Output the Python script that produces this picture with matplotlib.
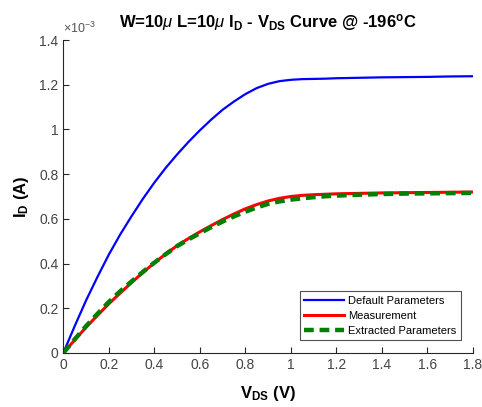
import matplotlib
matplotlib.use("Agg")
import matplotlib.pyplot as plt
from matplotlib.ticker import FuncFormatter

plt.rcParams['font.family'] = ['Liberation Sans', 'DejaVu Sans']
plt.rcParams['mathtext.fontset'] = 'custom'
plt.rcParams['mathtext.rm'] = 'Liberation Sans'
plt.rcParams['mathtext.it'] = 'Liberation Sans:italic'
plt.rcParams['mathtext.bf'] = 'Liberation Sans:bold'

# Data (drain current in units of 1e-3 A)
vds = [0.0, 0.05, 0.1, 0.15, 0.2, 0.25, 0.3, 0.35, 0.4, 0.45, 0.5, 0.55, 0.6,
       0.65, 0.7, 0.75, 0.8, 0.85, 0.9, 0.95, 1.0, 1.05, 1.1, 1.15, 1.2,
       1.3, 1.4, 1.5, 1.6, 1.7, 1.8]
id_default = [0.0, 0.12, 0.235, 0.34, 0.44, 0.53, 0.612, 0.69, 0.762, 0.828, 0.888,
              0.944, 0.996, 1.044, 1.088, 1.125, 1.158, 1.185, 1.204, 1.216, 1.222,
              1.225, 1.226, 1.227, 1.229, 1.231, 1.233, 1.234, 1.235, 1.237, 1.238]
id_measured = [0.0, 0.058, 0.115, 0.168, 0.22, 0.268, 0.315, 0.36, 0.403, 0.443, 0.48,
               0.512, 0.542, 0.57, 0.597, 0.622, 0.645, 0.664, 0.68, 0.692, 0.70,
               0.705, 0.708, 0.710, 0.712, 0.714, 0.716, 0.717, 0.718, 0.719, 0.72]
id_extracted = [0.0, 0.061, 0.12, 0.175, 0.228, 0.276, 0.32, 0.363, 0.404, 0.442, 0.478,
                0.508, 0.536, 0.563, 0.588, 0.611, 0.632, 0.651, 0.667, 0.678, 0.686,
                0.692, 0.697, 0.701, 0.704, 0.708, 0.711, 0.713, 0.714, 0.715, 0.716]
labels = ['Default Parameters', 'Measurement', 'Extracted Parameters']
xticks = [0, 0.2, 0.4, 0.6, 0.8, 1.0, 1.2, 1.4, 1.6, 1.8]
yticks = [0, 0.2, 0.4, 0.6, 0.8, 1.0, 1.2, 1.4]

fig = plt.figure(figsize=(4.82, 4.07), dpi=100)
ax = fig.add_axes([0.1313, 0.1327, 0.850, 0.769])

ax.plot(vds, id_default, color='#0000ff', lw=1.6, label=labels[0])
ax.plot(vds, id_measured, color='#ff0000', lw=2.2, label=labels[1])
ax.plot(vds, id_extracted, color='#008000', lw=3.2, ls=(0, (2.2, 1.3)), label=labels[2])

ax.set_xlim(0, 1.8)
ax.set_ylim(0, 1.4)
ax.set_xticks(xticks)
ax.set_yticks(yticks)
fmt = FuncFormatter(lambda v, p: '%g' % round(v, 6))
ax.xaxis.set_major_formatter(fmt)
ax.yaxis.set_major_formatter(fmt)

gray = '#262626'
for s in ['top', 'right']:
    ax.spines[s].set_visible(False)
for s in ['left', 'bottom']:
    ax.spines[s].set_color(gray)
    ax.spines[s].set_linewidth(0.8)
ax.tick_params(direction='in', length=4, width=0.8, colors=gray,
               labelcolor='#444444', labelsize=10)

ax.text(0.0, 1.012, r'$\times10^{-3}$', transform=ax.transAxes,
        fontsize=9, color='#555555', ha='left', va='bottom')

ax.set_title(r'W=10$\mu$ L=10$\mu$ I$_{\mathbf{D}}$ - V$_{\mathbf{DS}}$ Curve @ -196$^{\mathbf{o}}$C',
             fontsize=12, fontweight='bold', pad=9)
ax.set_xlabel(r'V$_{\mathbf{DS}}$ (V)', fontsize=12, fontweight='bold', labelpad=9)
ax.set_ylabel(r'I$_{\mathbf{D}}$ (A)', fontsize=12, fontweight='bold', labelpad=6)

leg = ax.legend(loc='lower right', bbox_to_anchor=(0.971, 0.0415), borderaxespad=0,
                fontsize=8, frameon=True, fancybox=False, handlelength=3.6,
                handletextpad=0.4, borderpad=0.4, labelspacing=0.45)
leg.get_frame().set_edgecolor('#262626')
leg.get_frame().set_linewidth(0.8)

fig.savefig('out.png', dpi=100)
